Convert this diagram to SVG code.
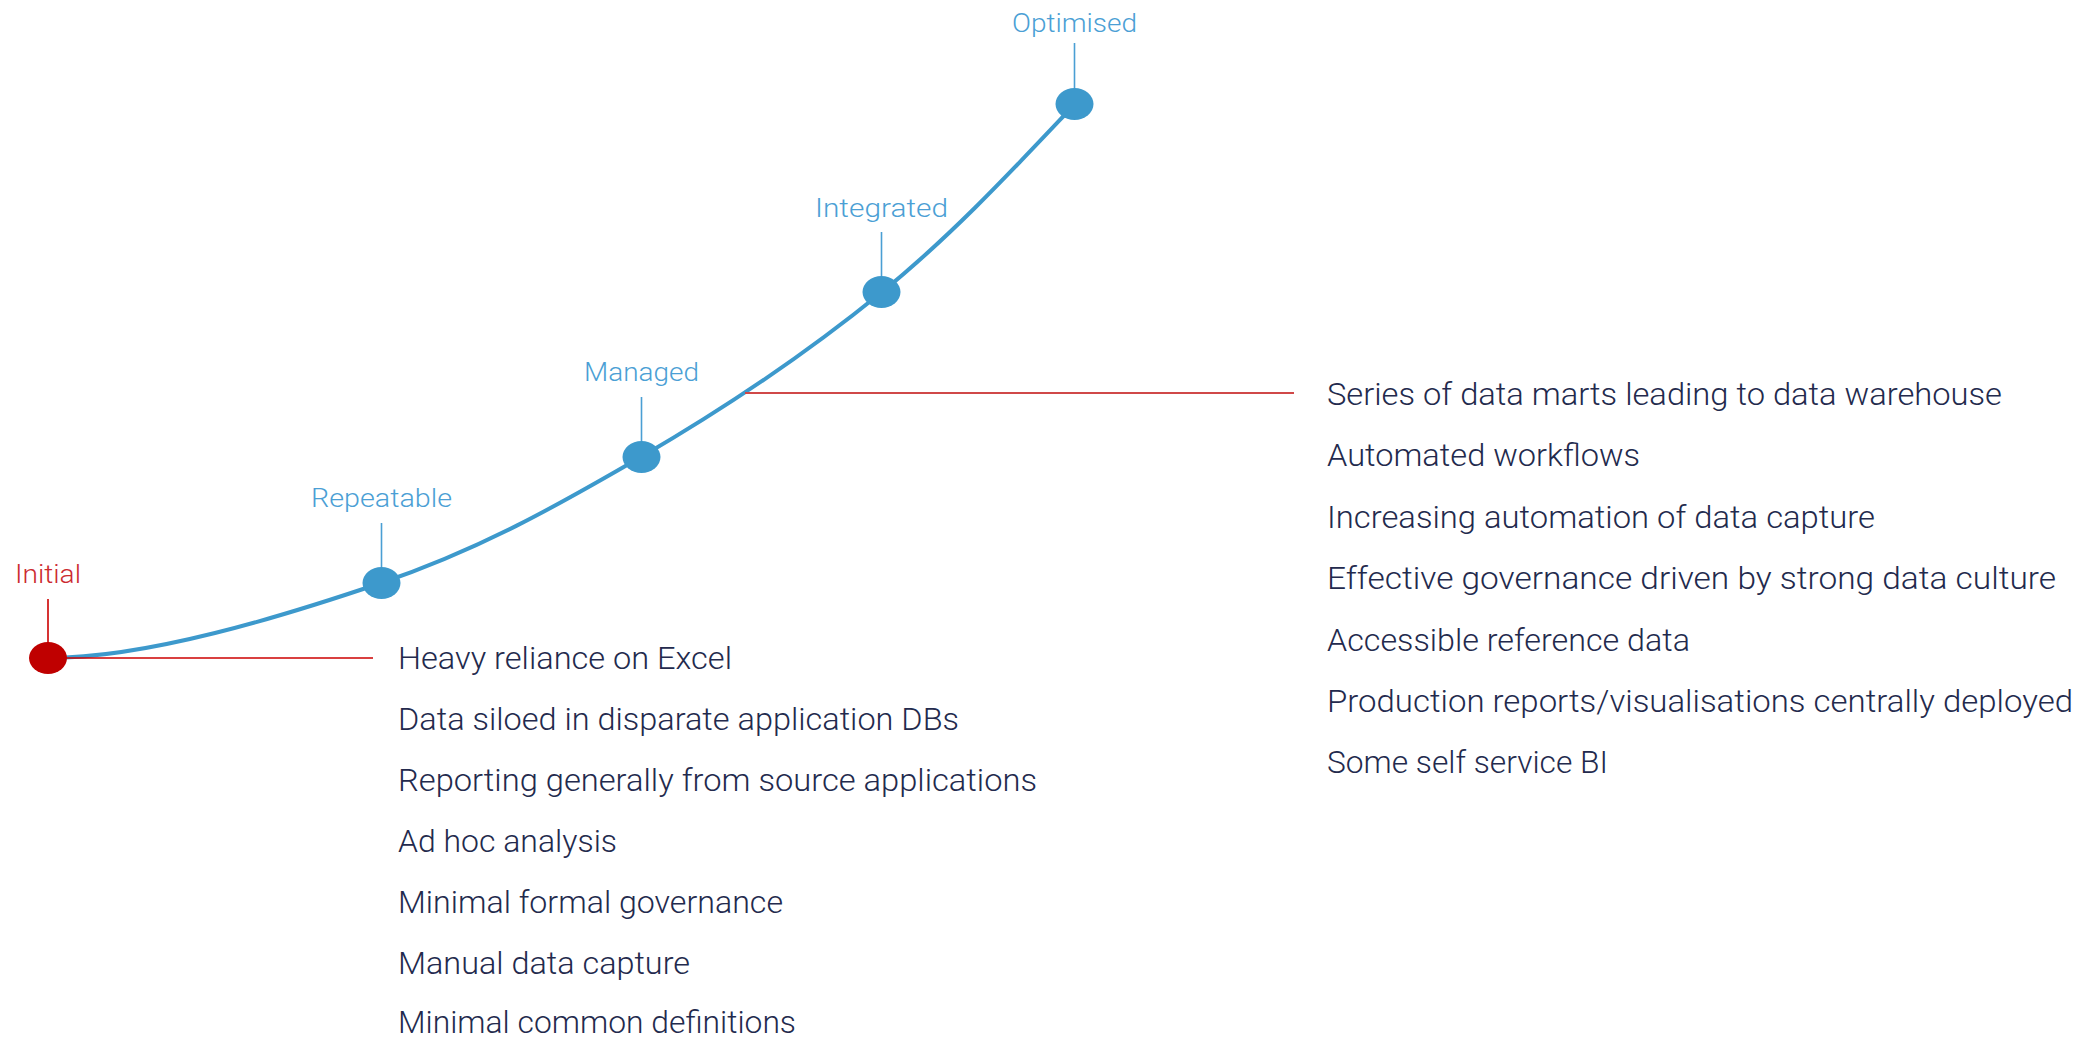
<svg xmlns="http://www.w3.org/2000/svg" width="2092" height="1040" viewBox="0 0 2092 1040">
  <style>
    .curve { fill: none; stroke: #3d99cc; stroke-width: 4; stroke-linecap: round; }
    .stem { stroke: #4a9fd4; stroke-width: 1.6; }
    .stem-red { stroke: #cc0000; stroke-width: 1.6; }
    .dot { fill: #3d99cc; }
    .dot-red { fill: #bf0000; }
    .label { font-family: Roboto, "Liberation Sans", sans-serif; font-weight: 300; font-size: 25px; fill: #4b9fd5; text-anchor: middle; }
    .label-red { fill: #cc2a30; }
    .item { font-family: Roboto, "Liberation Sans", sans-serif; font-weight: 300; font-size: 32px; fill: #232a4d; }
    .lead-left { stroke: #cc0000; stroke-width: 1.6; }
    .lead-right { stroke: #d04848; stroke-width: 2; }
  </style>
  <rect width="2092" height="1040" fill="#ffffff"/>

  <g id="connectors">
    <path class="curve" d="M48,658 C148,658 282.2,616.5 381,583 C479.8,549.5 557.5,505.5 641,457 C724.5,408.5 809.7,350.8 882,292 C954.3,233.2 1015,167.3 1075,104"/>
    <line class="lead-left" x1="60" y1="658" x2="373" y2="658"/>
    <line class="lead-right" x1="745" y1="393" x2="1294" y2="393"/>
  </g>

  <g id="stage-initial">
    <line class="stem-red" x1="48" y1="599" x2="48" y2="644"/>
    <ellipse class="dot-red" cx="48" cy="658" rx="19" ry="16"/>
    <text class="label label-red" x="48" y="583" textLength="66" lengthAdjust="spacingAndGlyphs">Initial</text>
  </g>

  <g id="stage-repeatable">
    <line class="stem" x1="381.5" y1="523" x2="381.5" y2="569"/>
    <ellipse class="dot" cx="381.5" cy="583" rx="19" ry="16"/>
    <text class="label" x="381.5" y="507" textLength="141" lengthAdjust="spacingAndGlyphs">Repeatable</text>
  </g>

  <g id="stage-managed">
    <line class="stem" x1="641.5" y1="397" x2="641.5" y2="443"/>
    <ellipse class="dot" cx="641.5" cy="457" rx="19" ry="16"/>
    <text class="label" x="641.5" y="381" textLength="115" lengthAdjust="spacingAndGlyphs">Managed</text>
  </g>

  <g id="stage-integrated">
    <line class="stem" x1="881.5" y1="232" x2="881.5" y2="278"/>
    <ellipse class="dot" cx="881.5" cy="292" rx="19" ry="16"/>
    <text class="label" x="881.5" y="217" textLength="133" lengthAdjust="spacingAndGlyphs">Integrated</text>
  </g>

  <g id="stage-optimised">
    <line class="stem" x1="1074.5" y1="43" x2="1074.5" y2="90"/>
    <ellipse class="dot" cx="1074.5" cy="104" rx="19" ry="16"/>
    <text class="label" x="1074.5" y="32" textLength="125" lengthAdjust="spacingAndGlyphs">Optimised</text>
  </g>

  <g id="initial-characteristics">
    <text class="item" x="398" y="669" textLength="334" lengthAdjust="spacingAndGlyphs">Heavy reliance on Excel</text>
    <text class="item" x="398" y="730" textLength="561" lengthAdjust="spacingAndGlyphs">Data siloed in disparate application DBs</text>
    <text class="item" x="398" y="791" textLength="639" lengthAdjust="spacingAndGlyphs">Reporting generally from source applications</text>
    <text class="item" x="398" y="852" textLength="219" lengthAdjust="spacingAndGlyphs">Ad hoc analysis</text>
    <text class="item" x="398" y="913" textLength="385" lengthAdjust="spacingAndGlyphs">Minimal formal governance</text>
    <text class="item" x="398" y="974" textLength="292" lengthAdjust="spacingAndGlyphs">Manual data capture</text>
    <text class="item" x="398" y="1033" textLength="398" lengthAdjust="spacingAndGlyphs">Minimal common definitions</text>
  </g>

  <g id="managed-characteristics">
    <text class="item" x="1327" y="405" textLength="675" lengthAdjust="spacingAndGlyphs">Series of data marts leading to data warehouse</text>
    <text class="item" x="1327" y="466.4" textLength="313" lengthAdjust="spacingAndGlyphs">Automated workflows</text>
    <text class="item" x="1327" y="527.8" textLength="548" lengthAdjust="spacingAndGlyphs">Increasing automation of data capture</text>
    <text class="item" x="1327" y="589.2" textLength="729" lengthAdjust="spacingAndGlyphs">Effective governance driven by strong data culture</text>
    <text class="item" x="1327" y="650.6" textLength="363" lengthAdjust="spacingAndGlyphs">Accessible reference data</text>
    <text class="item" x="1327" y="712" textLength="746" lengthAdjust="spacingAndGlyphs">Production reports/visualisations centrally deployed</text>
    <text class="item" x="1327" y="773.4" textLength="281" lengthAdjust="spacingAndGlyphs">Some self service BI</text>
  </g>
</svg>
